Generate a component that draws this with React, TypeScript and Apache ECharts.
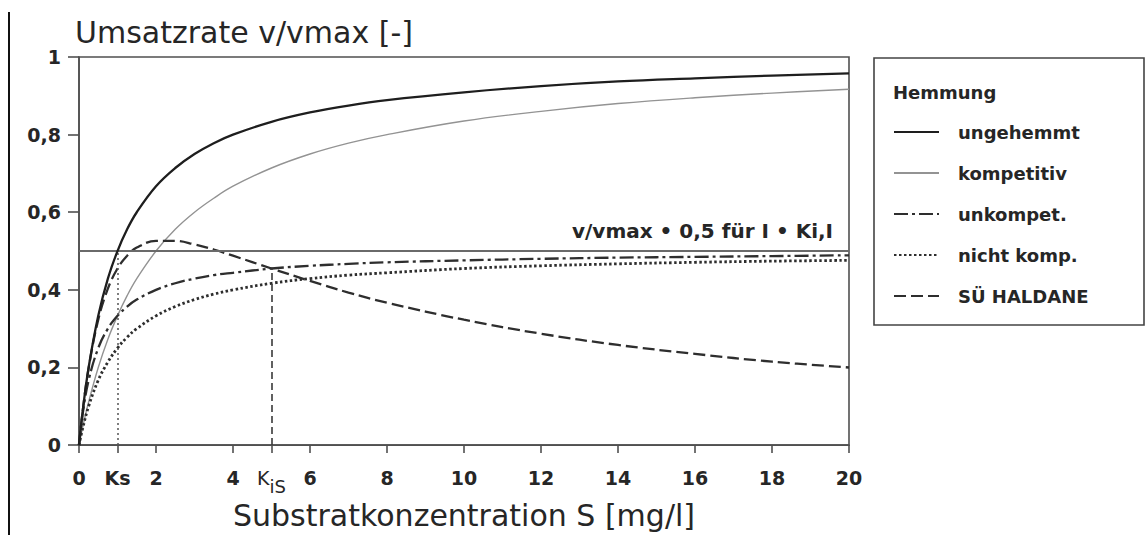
import React, { useEffect, useRef } from "react";
import * as echarts from "echarts";

// Substrate concentration S [mg/l]
const sValues = [0, 0.1, 0.25, 0.5, 0.75, 1, 1.25, 1.5, 2, 2.5, 3, 3.5, 4, 5, 6, 7, 8, 10, 12, 14, 16, 18, 20];
// v/vmax
const ungehemmt = [0, 0.091, 0.2, 0.333, 0.429, 0.5, 0.556, 0.6, 0.667, 0.714, 0.75, 0.778, 0.8, 0.833, 0.857, 0.875, 0.889, 0.909, 0.925, 0.937, 0.945, 0.952, 0.958];
const kompetitiv = [0, 0.048, 0.111, 0.2, 0.273, 0.333, 0.385, 0.429, 0.5, 0.556, 0.6, 0.636, 0.667, 0.714, 0.75, 0.778, 0.8, 0.835, 0.86, 0.88, 0.895, 0.907, 0.917];
const unkompet = [0, 0.083, 0.167, 0.25, 0.3, 0.333, 0.357, 0.375, 0.4, 0.417, 0.429, 0.438, 0.444, 0.455, 0.462, 0.467, 0.471, 0.476, 0.48, 0.483, 0.485, 0.487, 0.489];
const nichtKomp = [0, 0.045, 0.1, 0.167, 0.214, 0.25, 0.278, 0.3, 0.333, 0.357, 0.375, 0.389, 0.4, 0.417, 0.429, 0.438, 0.444, 0.455, 0.462, 0.467, 0.471, 0.474, 0.476];
const haldane = [0, 0.091, 0.198, 0.323, 0.403, 0.455, 0.488, 0.509, 0.526, 0.526, 0.517, 0.504, 0.488, 0.455, 0.423, 0.393, 0.367, 0.323, 0.287, 0.258, 0.235, 0.215, 0.2];

const seriesNames = ["ungehemmt", "kompetitiv", "unkompet.", "nicht komp.", "SÜ HALDANE"];

// x-axis tick positions and special labels
const xTickValues = [0, 1, 2, 4, 5, 6, 8, 10, 12, 14, 16, 18, 20];
const Ks = 1;
const Kis = 5;
const halfLevel = 0.5;
const haldaneAtKis = 0.455;

const yTickLabels = ["0", "0,2", "0,4", "0,6", "0,8", "1"];

const TEXT = "#262626";
const AXIS = "#505050";
const FONT = "'DejaVu Sans', sans-serif";

function pairs(ys: number[]) {
  return sValues.map((s, i) => [s, ys[i]]);
}

export default function App() {
  const ref = useRef<HTMLDivElement>(null);

  useEffect(() => {
    if (!ref.current) return;
    const chart = echarts.init(ref.current, null, { renderer: "svg" });

    const lineSeries = (name: string, ys: number[], color: string, width: number, type: any, z = 4) => ({
      name,
      type: "line",
      data: pairs(ys),
      smooth: 0.4,
      symbol: "none",
      lineStyle: { color, width, type },
      itemStyle: { color },
      z,
    });

    const first: any = lineSeries(seriesNames[0], ungehemmt, "#1e1e1e", 2.3, "solid", 5);
    first.markLine = {
      silent: true,
      symbol: ["none", "none"],
      label: { show: false },
      data: [
        { yAxis: halfLevel, lineStyle: { color: "#6a6a6a", width: 1.8, type: "solid" } },
        [
          { coord: [Ks, 0], lineStyle: { color: "#555", width: 1.5, type: [2, 3] } },
          { coord: [Ks, halfLevel] },
        ],
        [
          { coord: [Kis, 0], lineStyle: { color: "#3a3a3a", width: 1.6, type: [7, 4] } },
          { coord: [Kis, haldaneAtKis] },
        ],
      ],
    };

    const option: any = {
      animation: false,
      backgroundColor: "#fff",
      title: {
        text: "Umsatzrate v/vmax [-]",
        left: 75,
        top: 17,
        padding: 0,
        textStyle: { fontFamily: FONT, fontSize: 30, fontWeight: "normal", color: TEXT },
      },
      grid: {
        left: 79,
        right: 297,
        top: 57,
        bottom: 80,
        show: true,
        borderColor: AXIS,
        borderWidth: 1.6,
        backgroundColor: "transparent",
      },
      legend: {
        data: seriesNames,
        orient: "vertical",
        left: 893,
        top: 122,
        padding: 0,
        itemWidth: 45,
        itemHeight: 20,
        itemGap: 21,
        selectedMode: false,
        itemStyle: { opacity: 0, color: "transparent", borderWidth: 0 },
        textStyle: {
          fontFamily: FONT,
          fontSize: 18,
          fontWeight: "bold",
          color: TEXT,
          lineHeight: 20,
          padding: [0, 0, 0, 14],
        },
      },
      xAxis: {
        type: "value",
        min: 0,
        max: 20,
        interval: 1,
        name: "Substratkonzentration S [mg/l]",
        nameLocation: "middle",
        nameGap: 52,
        nameTextStyle: {
          fontFamily: FONT,
          fontSize: 30,
          color: TEXT,
        },
        axisLine: { show: true, onZero: false, lineStyle: { color: AXIS, width: 1.6 } },
        axisTick: {
          show: true,
          inside: false,
          length: 8,
          customValues: xTickValues,
          lineStyle: { color: AXIS, width: 1.6 },
        },
        splitLine: { show: false },
        axisLabel: {
          customValues: xTickValues,
          margin: 23,
          fontFamily: FONT,
          fontSize: 19,
          fontWeight: "bold",
          color: TEXT,
          formatter: (v: number) => {
            if (v === Ks) return "Ks";
            if (v === Kis) return "{k|K}{sub|iS}";
            return String(v);
          },
          rich: {
            k: {
              fontFamily: FONT,
              fontSize: 19,
              color: TEXT,
              fontWeight: "normal",
              lineHeight: 27,
              verticalAlign: "top",
            },
            sub: {
              fontFamily: FONT,
              fontSize: 18,
              color: TEXT,
              fontWeight: "normal",
              lineHeight: 27,
              verticalAlign: "bottom",
            },
          },
        },
      },
      yAxis: {
        type: "value",
        min: 0,
        max: 1,
        interval: 0.2,
        axisLine: { show: true, onZero: false, lineStyle: { color: AXIS, width: 1.6 } },
        axisTick: { show: true, inside: false, length: 11, lineStyle: { color: AXIS, width: 1.6 } },
        splitLine: { show: false },
        axisLabel: {
          margin: 18,
          fontFamily: FONT,
          fontSize: 19,
          fontWeight: "bold",
          color: TEXT,
          formatter: (v: number) => yTickLabels[Math.round(v * 5)],
        },
      },
      series: [
        first,
        lineSeries(seriesNames[1], kompetitiv, "#939393", 1.4, "solid"),
        lineSeries(seriesNames[2], unkompet, "#2e2e2e", 2.3, [14, 4, 3, 4]),
        lineSeries(seriesNames[3], nichtKomp, "#2e2e2e", 2.8, [2.5, 2.5]),
        lineSeries(seriesNames[4], haldane, "#2e2e2e", 2.3, [12, 5]),
      ],
      graphic: [
        {
          type: "line",
          shape: { x1: 9, y1: 12, x2: 9, y2: 535 },
          style: { stroke: "#111", lineWidth: 2 },
          silent: true,
        },
        {
          type: "text",
          left: 572,
          top: 221,
          style: {
            text: "v/vmax • 0,5 für I • Ki,I",
            fontFamily: FONT,
            fontSize: 20,
            fontWeight: "bold",
            fill: TEXT,
          },
          silent: true,
        },
        {
          type: "rect",
          shape: { x: 874, y: 58, width: 270, height: 267 },
          style: { fill: "none", stroke: "#444", lineWidth: 1.6 },
          silent: true,
        },
        {
          type: "text",
          left: 893,
          top: 83,
          style: {
            text: "Hemmung",
            fontFamily: FONT,
            fontSize: 18,
            fontWeight: "bold",
            fill: TEXT,
          },
          silent: true,
        },
      ],
    };

    chart.setOption(option);
    return () => chart.dispose();
  }, []);

  return (
    <div
      ref={ref}
      style={{ position: "fixed", left: 0, top: 0, width: 1146, height: 535, background: "#fff" }}
    />
  );
}
